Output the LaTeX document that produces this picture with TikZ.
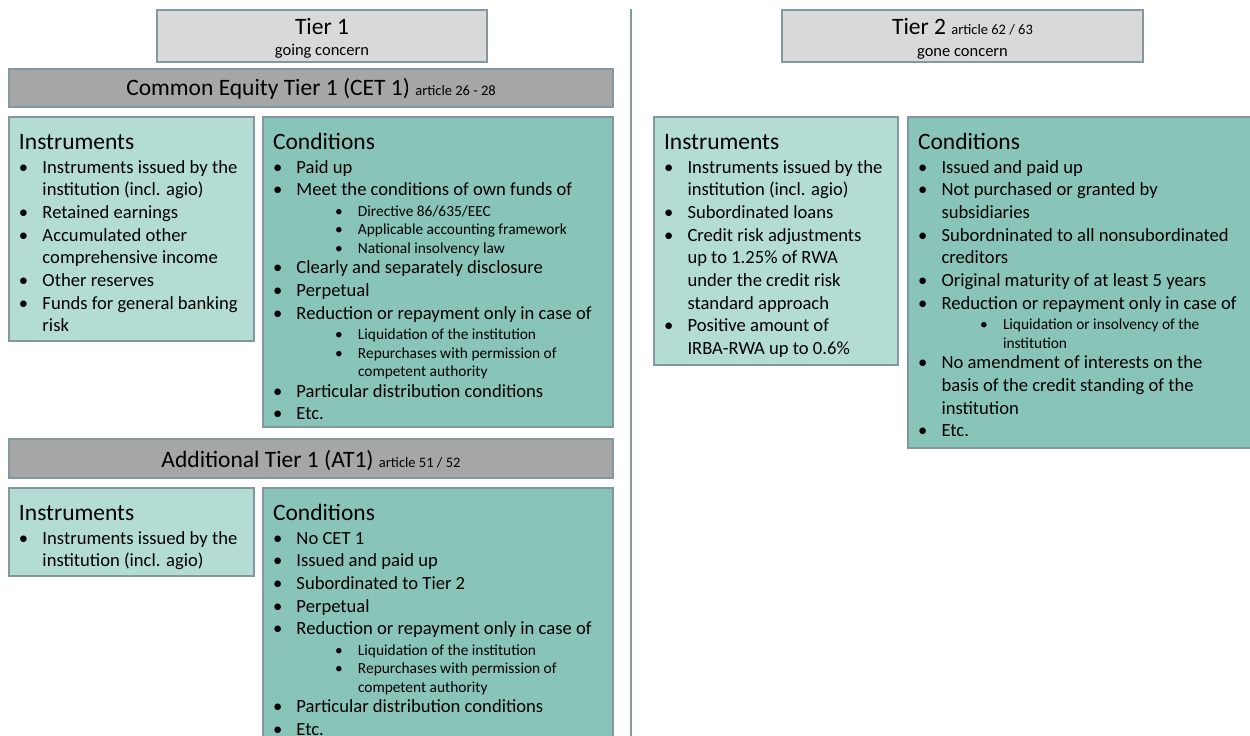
\documentclass[tikz,border=0pt]{standalone}
\usepackage{fontspec}
\setmainfont{Carlito}

\definecolor{tierfill}{HTML}{D9D9D9}
\definecolor{barfill}{HTML}{A6A6A6}
\definecolor{instfill}{HTML}{B3DCD3}
\definecolor{condfill}{HTML}{88C5B8}
\definecolor{edgecol}{HTML}{8497A0}

% list helpers for the panel texts
\newif\ifprevsub
\newcommand\hd[1]{{\fontsize{23.5}{28}\selectfont #1\par}\vspace{1.3pt}\prevsubfalse}
\newcommand\pbul[1]{\ifprevsub\vspace{-2.2pt}\fi\prevsubfalse
  \fontsize{18.6}{22.7}\selectfont\hangindent=23.5pt\hangafter=1
  \noindent\hbox to 23.5pt{\textbullet\hfil}#1\par}
\newcommand\psub[1]{\ifprevsub\else\vspace{2pt}\fi\prevsubtrue
  \fontsize{15.4}{18.5}\selectfont\hangindent=85pt\hangafter=1
  \noindent\hbox to 85pt{\hskip62pt\textbullet\hfil}#1\par}
\newcommand\artnote[1]{{\fontsize{14.5}{16}\selectfont #1}}

\tikzset{
  panel/.style={draw=edgecol, line width=1.5pt, anchor=north west,
    inner sep=0pt, outer sep=0pt},
  tierbox/.style={panel, fill=tierfill},
  barbox/.style={panel, fill=barfill},
  instbox/.style={panel, fill=instfill},
  condbox/.style={panel, fill=condfill},
  paneltext/.style={anchor=base west, inner sep=0pt, outer sep=0pt},
  titletext/.style={anchor=base, inner sep=0pt, outer sep=0pt,
    font=\fontsize{23.5}{28}\selectfont},
  subtitletext/.style={anchor=base, inner sep=0pt, outer sep=0pt,
    font=\fontsize{16.5}{20}\selectfont},
}

\begin{document}
\begin{tikzpicture}[x=1pt, y=-1pt]
\useasboundingbox (0,0) rectangle (1250,736);
\begin{scope}
\clip (0,0) rectangle (1250,736);

% divider between the two tiers
\coordinate (divtop) at (631,9);
\coordinate (divbot) at (631,745);
\draw[edgecol, line width=2pt] (divtop) -- (divbot);

% ---------- Tier 1 ----------
\node[tierbox, minimum width=330pt, minimum height=52pt] (tierone) at (157,10) {};
\node[titletext] (tieronetitle) at (322,34.5) {Tier 1};
\node[subtitletext] (tieronesub) at (322,55.5) {going concern};

\node[barbox, minimum width=604pt, minimum height=38pt] (cetbar) at (9,69) {};
\node[titletext] (cettitle) at (311,95.5) {Common Equity Tier 1 (CET 1) \artnote{article 26 - 28}};

\node[instbox, minimum width=245pt, minimum height=224pt] (cetinst) at (9,117) {};
\node[paneltext] (cetinsttext) at ([xshift=10pt,yshift=-32pt]cetinst.north west)
 {\parbox[t]{240pt}{\rightskip=0pt plus 1fil
  \hd{Instruments}
  \pbul{Instruments issued by the\newline institution (incl. agio)}
  \pbul{Retained earnings}
  \pbul{Accumulated other\newline comprehensive income}
  \pbul{Other reserves}
  \pbul{Funds for general banking\newline risk}}};

\node[condbox, minimum width=350pt, minimum height=310pt] (cetcond) at (263,117) {};
\node[paneltext] (cetcondtext) at ([xshift=10pt,yshift=-32pt]cetcond.north west)
 {\parbox[t]{340pt}{\rightskip=0pt plus 1fil
  \hd{Conditions}
  \pbul{Paid up}
  \pbul{Meet the conditions of own funds of}
  \psub{Directive 86/635/EEC}
  \psub{Applicable accounting framework}
  \psub{National insolvency law}
  \pbul{Clearly and separately disclosure}
  \pbul{Perpetual}
  \pbul{Reduction or repayment only in case of}
  \psub{Liquidation of the institution}
  \psub{Repurchases with permission of\newline competent authority}
  \pbul{Particular distribution conditions}
  \pbul{Etc.}}};

\node[barbox, minimum width=604pt, minimum height=39pt] (atbar) at (9,439) {};
\node[titletext] (attitle) at (311,467.5) {Additional Tier 1 (AT1) \artnote{article 51 / 52}};

\node[instbox, minimum width=245pt, minimum height=88pt] (atinst) at (9,488) {};
\node[paneltext] (atinsttext) at ([xshift=10pt,yshift=-32pt]atinst.north west)
 {\parbox[t]{240pt}{\rightskip=0pt plus 1fil
  \hd{Instruments}
  \pbul{Instruments issued by the\newline institution (incl. agio)}}};

\node[condbox, minimum width=350pt, minimum height=270pt] (atcond) at (263,488) {};
\node[paneltext] (atcondtext) at ([xshift=10pt,yshift=-32pt]atcond.north west)
 {\parbox[t]{340pt}{\rightskip=0pt plus 1fil
  \hd{Conditions}
  \pbul{No CET 1}
  \pbul{Issued and paid up}
  \pbul{Subordinated to Tier 2}
  \pbul{Perpetual}
  \pbul{Reduction or repayment only in case of}
  \psub{Liquidation of the institution}
  \psub{Repurchases with permission of\newline competent authority}
  \pbul{Particular distribution conditions}
  \pbul{Etc.}}};

% ---------- Tier 2 ----------
\node[tierbox, minimum width=361pt, minimum height=52pt] (tiertwo) at (782,10) {};
\node[titletext] (tiertwotitle) at (962.5,34.5) {Tier 2 \artnote{article 62 / 63}};
\node[subtitletext] (tiertwosub) at (962.5,56) {gone concern};

\node[instbox, minimum width=244pt, minimum height=248pt] (ttinst) at (654,117) {};
\node[paneltext] (ttinsttext) at ([xshift=10pt,yshift=-32pt]ttinst.north west)
 {\parbox[t]{240pt}{\rightskip=0pt plus 1fil
  \hd{Instruments}
  \pbul{Instruments issued by the\newline institution (incl. agio)}
  \pbul{Subordinated loans}
  \pbul{Credit risk adjustments\newline up to 1.25\% of RWA\newline under the credit risk\newline standard approach}
  \pbul{Positive amount of\newline IRBA-RWA up to 0.6\%}}};

\node[condbox, minimum width=360pt, minimum height=331pt] (ttcond) at (908,117) {};
\node[paneltext] (ttcondtext) at ([xshift=10pt,yshift=-32pt]ttcond.north west)
 {\parbox[t]{340pt}{\rightskip=0pt plus 1fil
  \hd{Conditions}
  \pbul{Issued and paid up}
  \pbul{Not purchased or granted by\newline subsidiaries}
  \pbul{Subordninated to all nonsubordinated\newline creditors}
  \pbul{Original maturity of at least 5 years}
  \pbul{Reduction or repayment only in case of}
  \psub{Liquidation or insolvency of the\newline institution}
  \pbul{No amendment of interests on the\newline basis of the credit standing of the\newline institution}
  \pbul{Etc.}}};
\end{scope}
\end{tikzpicture}
\end{document}
